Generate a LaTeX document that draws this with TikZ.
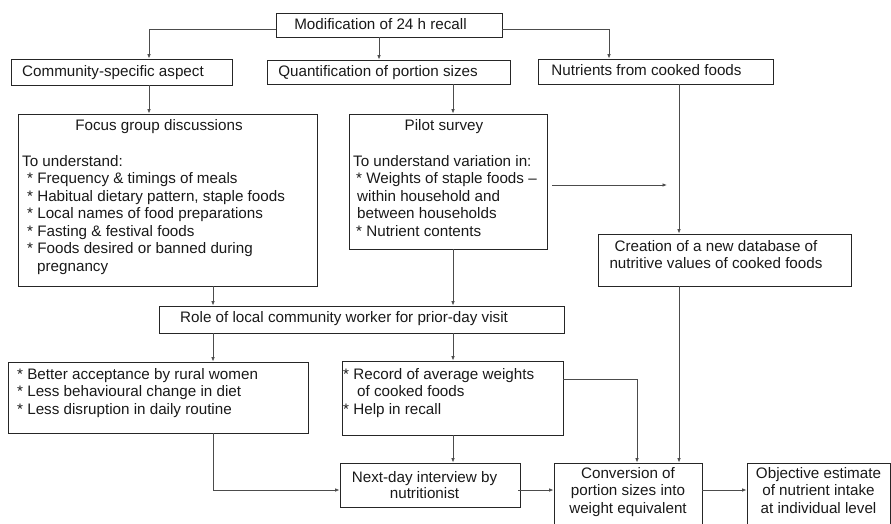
\documentclass[tikz,border=0pt]{standalone}
\usepackage{fontspec}
\setmainfont{Liberation Sans}
\usetikzlibrary{arrows.meta,fit}
\begin{document}
\begin{tikzpicture}[x=1pt,y=-1pt,
  box/.style={draw=black!85, line width=0.9pt, inner sep=0pt},
  lt/.style={inner sep=0pt, anchor=base west, font=\fontsize{15.2}{17.5}\selectfont, text=black!90},
  ct/.style={inner sep=0pt, anchor=base, font=\fontsize{15.2}{17.5}\selectfont, text=black!90},
  conn/.style={draw=black!70, line width=0.8pt, -{Latex[length=4.5pt,width=3.6pt]}},
  plain/.style={draw=black!70, line width=0.8pt}]
\useasboundingbox (0,0) rectangle (891,524);
% x and y reference coordinates
\coordinate (x149) at (149,0);
\coordinate (x213) at (213,0);
\coordinate (x379) at (379,0);
\coordinate (x453) at (453,0);
\coordinate (x609) at (609,0);
\coordinate (x637) at (637,0);
\coordinate (x679) at (679,0);
\coordinate (y29) at (0,29);
\coordinate (y185) at (0,185);
\coordinate (y379) at (0,379);
\coordinate (y490) at (0,490);
\coordinate (pend) at (667,185);
% boxes
\node[box, fit={(276,13)(502,37)}] (top) {};
\node[box, fit={(11,59)(232,85)}] (comm) {};
\node[box, fit={(267,60)(510,84)}] (quant) {};
\node[box, fit={(538,59)(773,84)}] (nutr) {};
\node[box, fit={(18,114)(317,286)}] (focus) {};
\node[box, fit={(349,114)(547,249)}] (pilot) {};
\node[box, fit={(598,234)(851,286)}] (creat) {};
\node[box, fit={(159,306)(564,333)}] (role) {};
\node[box, fit={(8,362)(308,433)}] (better) {};
\node[box, fit={(342,361)(563,435)}] (record) {};
\node[box, fit={(340,463)(520,507)}] (next) {};
\node[box, fit={(554,463)(702,532)}] (conv) {};
\node[box, fit={(747,463)(890,532)}] (obj) {};
% texts
\node[ct] (tTop) at (380.5,30) {Modification of 24 h recall};
\node[ct] (tComm) at (113,77) {Community-specific aspect};
\node[ct] (tQuant) at (378,77) {Quantification of portion sizes};
\node[ct] (tNutr) at (646.5,76) {Nutrients from cooked foods};
\node[ct] (tF0) at (159,131) {Focus group discussions};
\node[lt] (tF1) at (22,166) {To understand:};
\node[lt] (tF2) at (27,183.5) {* Frequency \& timings of meals};
\node[lt] (tF3) at (27,201) {* Habitual dietary pattern, staple foods};
\node[lt] (tF4) at (27,218.5) {* Local names of food preparations};
\node[lt] (tF5) at (27,236) {* Fasting \& festival foods};
\node[lt] (tF6) at (27,253.5) {* Foods desired or banned during};
\node[lt] (tF7) at (37,271) {pregnancy};
\node[ct] (tP0) at (444,131) {Pilot survey};
\node[lt] (tP1) at (353,166) {To understand variation in:};
\node[lt] (tP2) at (356,183.5) {* Weights of staple foods –};
\node[lt] (tP3) at (357,201) {within household and};
\node[lt] (tP4) at (357,218.5) {between households};
\node[lt] (tP5) at (356,236) {* Nutrient contents};
\node[ct] (tC1) at (716,251) {Creation of a new database of};
\node[ct] (tC2) at (716,268.5) {nutritive values of cooked foods};
\node[lt] (tRole) at (180,322) {Role of local community worker for prior-day visit};
\node[lt] (tB1) at (17,379) {* Better acceptance by rural women};
\node[lt] (tB2) at (17,396.5) {* Less behavioural change in diet};
\node[lt] (tB3) at (17,414) {* Less disruption in daily routine};
\node[lt] (tR1) at (343,379) {* Record of average weights};
\node[lt] (tR2) at (357,396.5) {of cooked foods};
\node[lt] (tR3) at (343,414) {* Help in recall};
\node[ct] (tN1) at (424.5,482) {Next-day interview by};
\node[ct] (tN2) at (424.5,498.5) {nutritionist};
\node[ct] (tV1) at (628,478) {Conversion of};
\node[ct] (tV2) at (628,495.5) {portion sizes into};
\node[ct] (tV3) at (628,513) {weight equivalent};
\node[ct] (tO1) at (818.5,478) {Objective estimate};
\node[ct] (tO2) at (818.5,495.5) {of nutrient intake};
\node[ct] (tO3) at (818.5,513) {at individual level};
% connectors
\draw[conn] (top.west |- y29) -| (comm.north -| x149);
\draw[conn] (top.south -| x379) -- (quant.north -| x379);
\draw[conn] (top.east |- y29) -| (nutr.north -| x609);
\draw[conn] (comm.south -| x149) -- (focus.north -| x149);
\draw[conn] (quant.south -| x453) -- (pilot.north -| x453);
\draw[conn] (nutr.south -| x679) -- (creat.north -| x679);
\draw[conn] ([xshift=5pt]pilot.east |- y185) -- (pend);
\draw[conn] (creat.south -| x679) -- (conv.north -| x679);
\draw[conn] (focus.south -| x213) -- (role.north -| x213);
\draw[conn] (pilot.south -| x453) -- (role.north -| x453);
\draw[conn] (role.south -| x213) -- (better.north -| x213);
\draw[conn] (role.south -| x453) -- (record.north -| x453);
\draw[conn] (record.east |- y379) -| (conv.north -| x637);
\draw[conn] (record.south -| x453) -- (next.north -| x453);
\draw[conn] (better.south -| x213) |- (next.west |- y490);
\draw[conn] ([xshift=-2pt]next.east |- y490) -- (conv.west |- y490);
\draw[conn] (conv.east |- y490) -- (obj.west |- y490);
\end{tikzpicture}
\end{document}
